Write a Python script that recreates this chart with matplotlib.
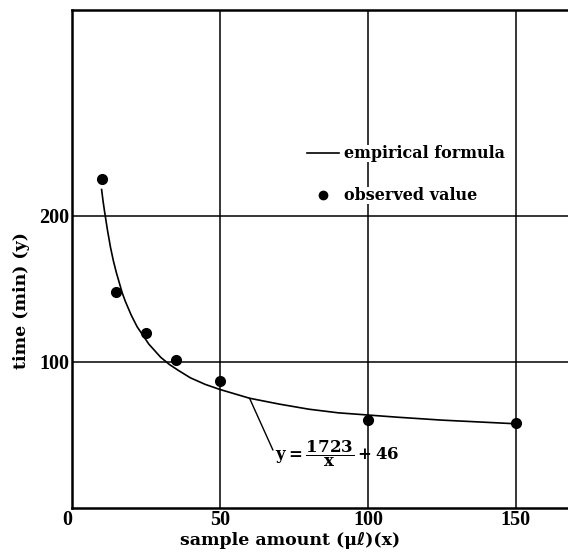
import matplotlib
matplotlib.use("Agg")
import matplotlib.pyplot as plt

# observed points
obs_x = [10, 15, 25, 35, 50, 100, 150]
obs_y = [225, 148, 120, 101, 87, 60, 58]

# empirical curve y = 1723/x + 46
fit_x = [10, 10.5, 11, 12, 13, 14, 15, 16, 17, 18, 20, 22, 24, 26, 28, 30,
         33, 36, 40, 45, 50, 60, 70, 80, 90, 100, 110, 125, 140, 150]
fit_y = [218, 210, 203, 190, 178.5, 169, 161, 154, 147, 141.5, 132, 124, 118,
         112, 107.5, 103, 98, 94, 89, 84.5, 81, 75, 71, 67.5, 65, 63.5, 62,
         60, 58.5, 57.5]

x_ticks = [0, 50, 100, 150]
y_ticks = [100, 200]

plt.rcParams['font.family'] = ['DejaVu Serif', 'DejaVu Sans']
plt.rcParams['font.weight'] = 'bold'
plt.rcParams['mathtext.fontset'] = 'dejavuserif'

fig = plt.figure(figsize=(5.68, 5.57), dpi=100)
ax = fig.add_axes([72 / 568, 49.3 / 557, 506 / 568, 497.7 / 557])
ax.set_xlim(0, 171)
ax.set_ylim(0, 341)

for s in ['left', 'bottom', 'top']:
    ax.spines[s].set_linewidth(1.8)
ax.spines['right'].set_visible(False)

for v in x_ticks[1:]:
    ax.axvline(v, color='black', lw=1.1, zorder=1)
for v in y_ticks:
    ax.axhline(v, color='black', lw=1.1, zorder=1)

ax.plot(fit_x, fit_y, color='black', lw=1.2, label='empirical formula', zorder=3)
ax.plot(obs_x, obs_y, 'o', color='black', ms=7, label='observed value', zorder=4)

ax.set_xticks(x_ticks)
ax.set_yticks(y_ticks)
ax.tick_params(axis='both', length=0, pad=2, labelsize=14.5,
               labelfontfamily='Liberation Serif')
ax.get_xticklabels()[0].set_horizontalalignment('right')

ax.set_xlabel('sample amount (μℓ)(x)', fontsize=12.5, fontweight='bold')
ax.xaxis.label.set_va('center')
ax.xaxis.set_label_coords(0.431, -0.066)
ax.set_ylabel('time (min) (y)', fontsize=12.5, fontweight='bold')
ax.yaxis.label.set_va('center')
ax.yaxis.set_label_coords(-0.099, 0.417)

leg = ax.legend(loc='upper left', bbox_to_anchor=(0.464, 0.728), frameon=False,
                handlelength=2.0, handletextpad=0.3,
                labelspacing=1.55, borderpad=0, borderaxespad=0,
                prop={'weight': 'bold', 'size': 11.5})
for t in leg.get_texts():
    t.set_bbox(dict(facecolor='white', edgecolor='none', pad=0))
leg.legend_handles[1].set_markersize(6)

# leader line from the curve to the formula
ax.annotate('', xy=(60, 75), xytext=(67.9, 39.5),
            arrowprops=dict(arrowstyle='-', color='black', lw=1.0,
                            shrinkA=0, shrinkB=0))
ax.text(68.6, 37, r'$\mathbf{y}=\dfrac{\mathbf{1723}}{\mathbf{x}}+\mathbf{46}$',
        fontsize=12, va='center', ha='left')

fig.savefig('out.png', dpi=100)
